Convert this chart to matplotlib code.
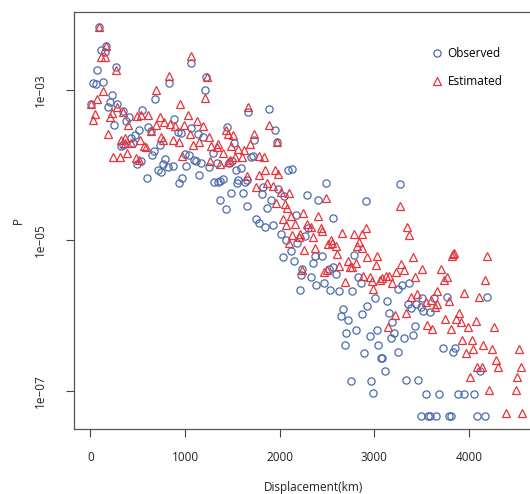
import numpy as np
import matplotlib.pyplot as plt

# observed displacement (km) and log10 of P
obs_km = [89, 107, 152, 166, 268, 64, 25, 54, 131, 229, 205, 187, 7, 282, 346, 247,
          403, 374, 546, 508, 469, 424, 318, 346, 451, 487, 530, 593, 607, 642, 673,
          649, 684, 829, 733, 790, 762, 712, 747, 821, 871, 885, 921, 959, 969, 934,
          998, 1043, 1012, 1058, 1058, 1093, 1114, 1170, 1135, 1185, 1149, 1212, 1220,
          1252, 1297, 1304, 1347, 1375, 1403, 1368, 1428, 1445, 1333,
          1671, 1889, 1952, 1970, 1516, 1730, 1699, 1720, 1466, 1495, 1587, 1544, 2090,
          2132, 1565, 1547, 1650, 1635, 1825, 1984, 2044, 1809, 1487, 1608, 1650, 1868,
          1907, 2295, 2411, 2488, 2565, 2911, 1748, 1783, 1847, 1931, 2013, 2171, 2189,
          2269, 2305, 2065, 2787, 2375, 2446, 2031, 2118,
          2153, 2354, 2242, 2224, 2330, 2390, 2470, 2523, 2565, 2594, 2213, 2531, 2629,
          2770, 2834, 2858, 3009, 2929, 2671, 2647, 2728, 2869, 2813, 2707, 2953, 3030,
          2692, 3045, 2893, 3070, 2752, 2971, 2992,
          3270, 3257, 3291, 3369, 3510, 3633, 3767, 4190, 3133, 3358, 3439, 3387, 3492,
          3521, 3591, 3157, 3193, 3432, 3411, 3210, 3175, 3316, 3257, 3088, 3732, 3855,
          3834, 3115, 4116, 3334, 3468,
          3550, 3686, 3889, 3949, 4053,
          3492, 3569, 3591, 3655, 3796, 3814, 4090, 4174]
obs_logp = [-2.16, -2.47, -2.49, -2.41, -2.70, -2.74, -2.91, -2.92, -2.89, -3.06, -3.16,
            -3.22, -3.19, -3.19, -3.28, -3.46, -3.36, -3.41, -3.26, -3.53, -3.60, -3.64,
            -3.75, -3.73, -3.71, -3.98, -3.94, -4.17, -3.49, -3.54, -3.81, -3.86, -3.12,
            -2.90, -3.73, -3.92, -3.98, -4.06, -4.09, -4.02, -4.01, -3.38, -3.56, -3.57,
            -4.17, -4.23, -3.85, -3.87, -4.01, -2.64, -3.50, -3.93, -3.95, -3.97, -3.58,
            -3.63, -4.13, -3.00, -2.83, -4.02, -3.84, -4.22, -4.22, -4.21, -4.18, -4.46,
            -4.58, -3.49, -3.97,
            -3.29, -3.25, -3.53, -3.69, -3.70, -3.67, -3.89, -3.88, -3.97, -3.94, -4.04,
            -4.07, -4.07, -4.05, -4.20, -4.23, -4.19, -4.22, -4.29, -4.31, -4.41, -4.38,
            -4.37, -4.37, -4.54, -4.57, -4.46, -4.39, -4.46, -4.23, -4.70, -4.48, -4.72,
            -4.77, -4.82, -4.79, -4.91, -4.66, -5.04, -4.94, -4.84, -5.00, -5.19, -5.21,
            -5.21, -5.22, -5.14,
            -5.28, -5.30, -5.38, -5.46, -5.48, -5.59, -5.57, -5.38, -5.36, -5.45, -5.66,
            -5.66, -5.67, -5.67, -5.49, -5.56, -5.77, -5.87, -5.91, -6.00, -6.06, -5.98,
            -6.19, -6.23, -6.27, -6.19, -6.39, -6.39, -6.50, -6.56, -6.87, -6.87, -7.03,
            -4.25, -5.64, -5.59, -5.57, -5.76, -5.76, -5.75, -5.75, -5.81, -5.84, -5.84,
            -5.90, -5.88, -5.94, -5.95, -5.96, -6.09, -6.14, -6.26, -6.23, -6.30, -6.30,
            -6.49, -6.57, -6.43, -6.43, -6.49, -6.74, -6.74, -6.86, -6.86,
            -7.04, -7.04, -7.04, -7.04, -7.04,
            -7.33, -7.33, -7.33, -7.33, -7.33, -7.33, -7.33, -7.33]

# estimated values
est_km = [89, 166, 107, 152, 265, 128, 71, 7, 43, 29, 205, 229, 184, 282, 342, 395, 364,
          487, 530, 607, 318, 367, 240, 311, 388, 430, 522, 564, 586, 480, 515, 635, 691,
          730, 688, 776, 747, 768, 829, 839, 895, 868, 934, 952, 1030, 987, 1051, 973,
          1064, 1128, 1185, 1086, 1149, 1227, 1209, 1255, 1276, 1333, 1347, 1269, 1403,
          1368, 1452, 1452,
          1671, 1883, 1970, 1727, 1431, 1502, 1484, 1555, 1625, 1685, 1600, 1530, 1783,
          1836, 1473, 1847, 1952, 1988, 1783, 1650, 1872, 1925, 1748, 1960, 2013, 2100,
          2058, 2083, 2488, 2248, 2031, 2118, 2065, 2164, 2411, 2295, 2330, 2435, 2453,
          2136, 2200, 2213, 2354, 2665, 2787, 2869, 2911, 2541, 2559, 2517, 2594, 2840,
          2823, 2869, 2259, 2375, 2100, 2612, 2929, 3035,
          2234, 2474, 2506, 2629, 2718, 2742, 2770, 2813, 2692, 3017, 2882, 2953, 2982,
          3059, 2988,
          3270, 3352, 3369, 3288, 3411, 3316, 3510, 3228, 3122, 3157, 3088, 3186, 3432,
          3711, 3739, 3775, 3834, 3849, 3827, 4193, 4172, 3669, 3950, 4109, 3387, 3457,
          3545, 3598, 3643, 3669, 3791, 3218, 3334, 3151, 3563, 3616, 3749, 3862, 3897,
          3915, 3996, 4074, 3809, 4267, 3933, 4031, 4151, 4250, 3968, 4045, 4292, 4314,
          4092, 4137, 4013, 4531, 4549, 4514, 4214, 4496, 4391, 4567]
est_logp = [-2.16, -2.41, -2.56, -2.56, -2.74, -3.01, -3.12, -3.19, -3.32, -3.40, -3.36,
            -3.31, -3.58, -3.22, -3.29, -3.47, -3.64, -3.35, -3.33, -3.33, -3.66, -3.70,
            -3.89, -3.89, -3.84, -3.70, -3.66, -3.75, -3.76, -3.90, -3.93, -3.54, -3.00,
            -3.36, -3.47, -3.43, -3.63, -3.67, -2.82, -3.45, -3.48, -3.66, -3.69, -3.18,
            -3.33, -3.46, -3.59, -3.88, -2.55, -3.41, -3.48, -3.73, -3.69, -2.83, -3.10,
            -3.62, -3.75, -3.76, -3.72, -3.95, -3.84, -3.98, -3.96, -3.58,
            -3.22, -3.47, -3.69, -3.58, -3.53, -3.60, -3.75, -3.78, -3.80, -3.72, -3.89,
            -3.89, -3.88, -3.89, -3.93, -4.07, -4.06, -4.12, -4.13, -4.15, -4.24, -4.28,
            -4.29, -4.50, -4.36, -4.37, -4.51, -4.57, -4.43, -4.64, -4.71, -4.68, -4.79,
            -4.78, -4.68, -4.78, -4.82, -4.83, -4.88, -4.93, -4.95, -4.91, -4.95, -4.90,
            -4.91, -4.92, -4.84, -4.99, -5.04, -5.05, -5.08, -5.02, -5.08, -5.10, -5.13,
            -5.10, -5.04, -5.18, -5.22, -5.21,
            -5.39, -5.42, -5.40, -5.34, -5.27, -5.35, -5.36, -5.30, -5.55, -5.33, -5.47,
            -5.48, -5.54, -5.53, -5.64,
            -4.54, -4.82, -4.93, -5.31, -5.22, -5.40, -5.38, -5.42, -5.47, -5.47, -5.50,
            -5.56, -5.48, -5.38, -5.52, -5.49, -5.18, -5.17, -5.21, -5.21, -5.53, -5.67,
            -5.70, -5.75, -5.75, -5.71,
            -5.82, -5.79, -5.88, -5.84, -5.80, -5.99, -5.97, -6.15, -6.12, -6.18, -6.04,
            -6.05, -5.97, -6.09, -6.15, -6.07, -6.18, -6.15, -6.33, -6.33, -6.39, -6.45,
            -6.50, -6.45, -6.59, -6.69, -6.69, -6.69, -6.82, -6.45, -6.69, -6.82, -6.99,
            -6.99, -7.29, -7.29]

x_ticks = [0, 1000, 2000, 3000, 4000]
y_ticks = [1e-3, 1e-5, 1e-7]
y_labels = ["1e\u221203", "1e\u221205", "1e\u221207"]

plt.rcParams['font.family'] = ['Open Sans', 'DejaVu Sans']

blue = '#4b6aab'
red = '#e8333b'

fig = plt.figure(figsize=(5.3, 4.94), dpi=100)
ax = fig.add_axes([0.140, 0.1316, 0.905, 0.844])

ax.plot(obs_km, 10 ** np.array(obs_logp), 'o', ls='none', ms=5.2, mfc='none',
        mec=blue, mew=0.9, label='Observed')
ax.plot(est_km, 10 ** np.array(est_logp), '^', ls='none', ms=6, mfc='none',
        mec=red, mew=0.9, label='Estimated')

ax.set_yscale('log')
ax.set_xlim(-172, 4900)
ax.set_ylim(10 ** -7.508, 10 ** -1.963)

ax.set_xticks(x_ticks)
ax.set_yticks(y_ticks)
ax.set_yticklabels(y_labels, rotation=90, va='center')
ax.minorticks_off()
ax.tick_params(axis='both', length=6, width=0.8, color='#444444', labelsize=8.5,
               labelcolor='#222222')
ax.tick_params(axis='x', pad=10)
ax.tick_params(axis='y', pad=14)

for side in ['left', 'bottom', 'top']:
    ax.spines[side].set_color('#555555')
    ax.spines[side].set_linewidth(0.9)
ax.spines['right'].set_visible(False)

ax.set_xlabel('Displacement(km)', fontsize=8.5, color='#222222', labelpad=12)
ax.set_ylabel('P', fontsize=8.5, color='#222222', labelpad=6)

ax.legend(loc='upper left', bbox_to_anchor=(0.813, 0.905), bbox_transform=fig.transFigure,
          frameon=False, fontsize=8.5, handlelength=1.0, handletextpad=0.4,
          labelspacing=1.3, borderaxespad=0, borderpad=0)

fig.savefig('out.png', dpi=100)
